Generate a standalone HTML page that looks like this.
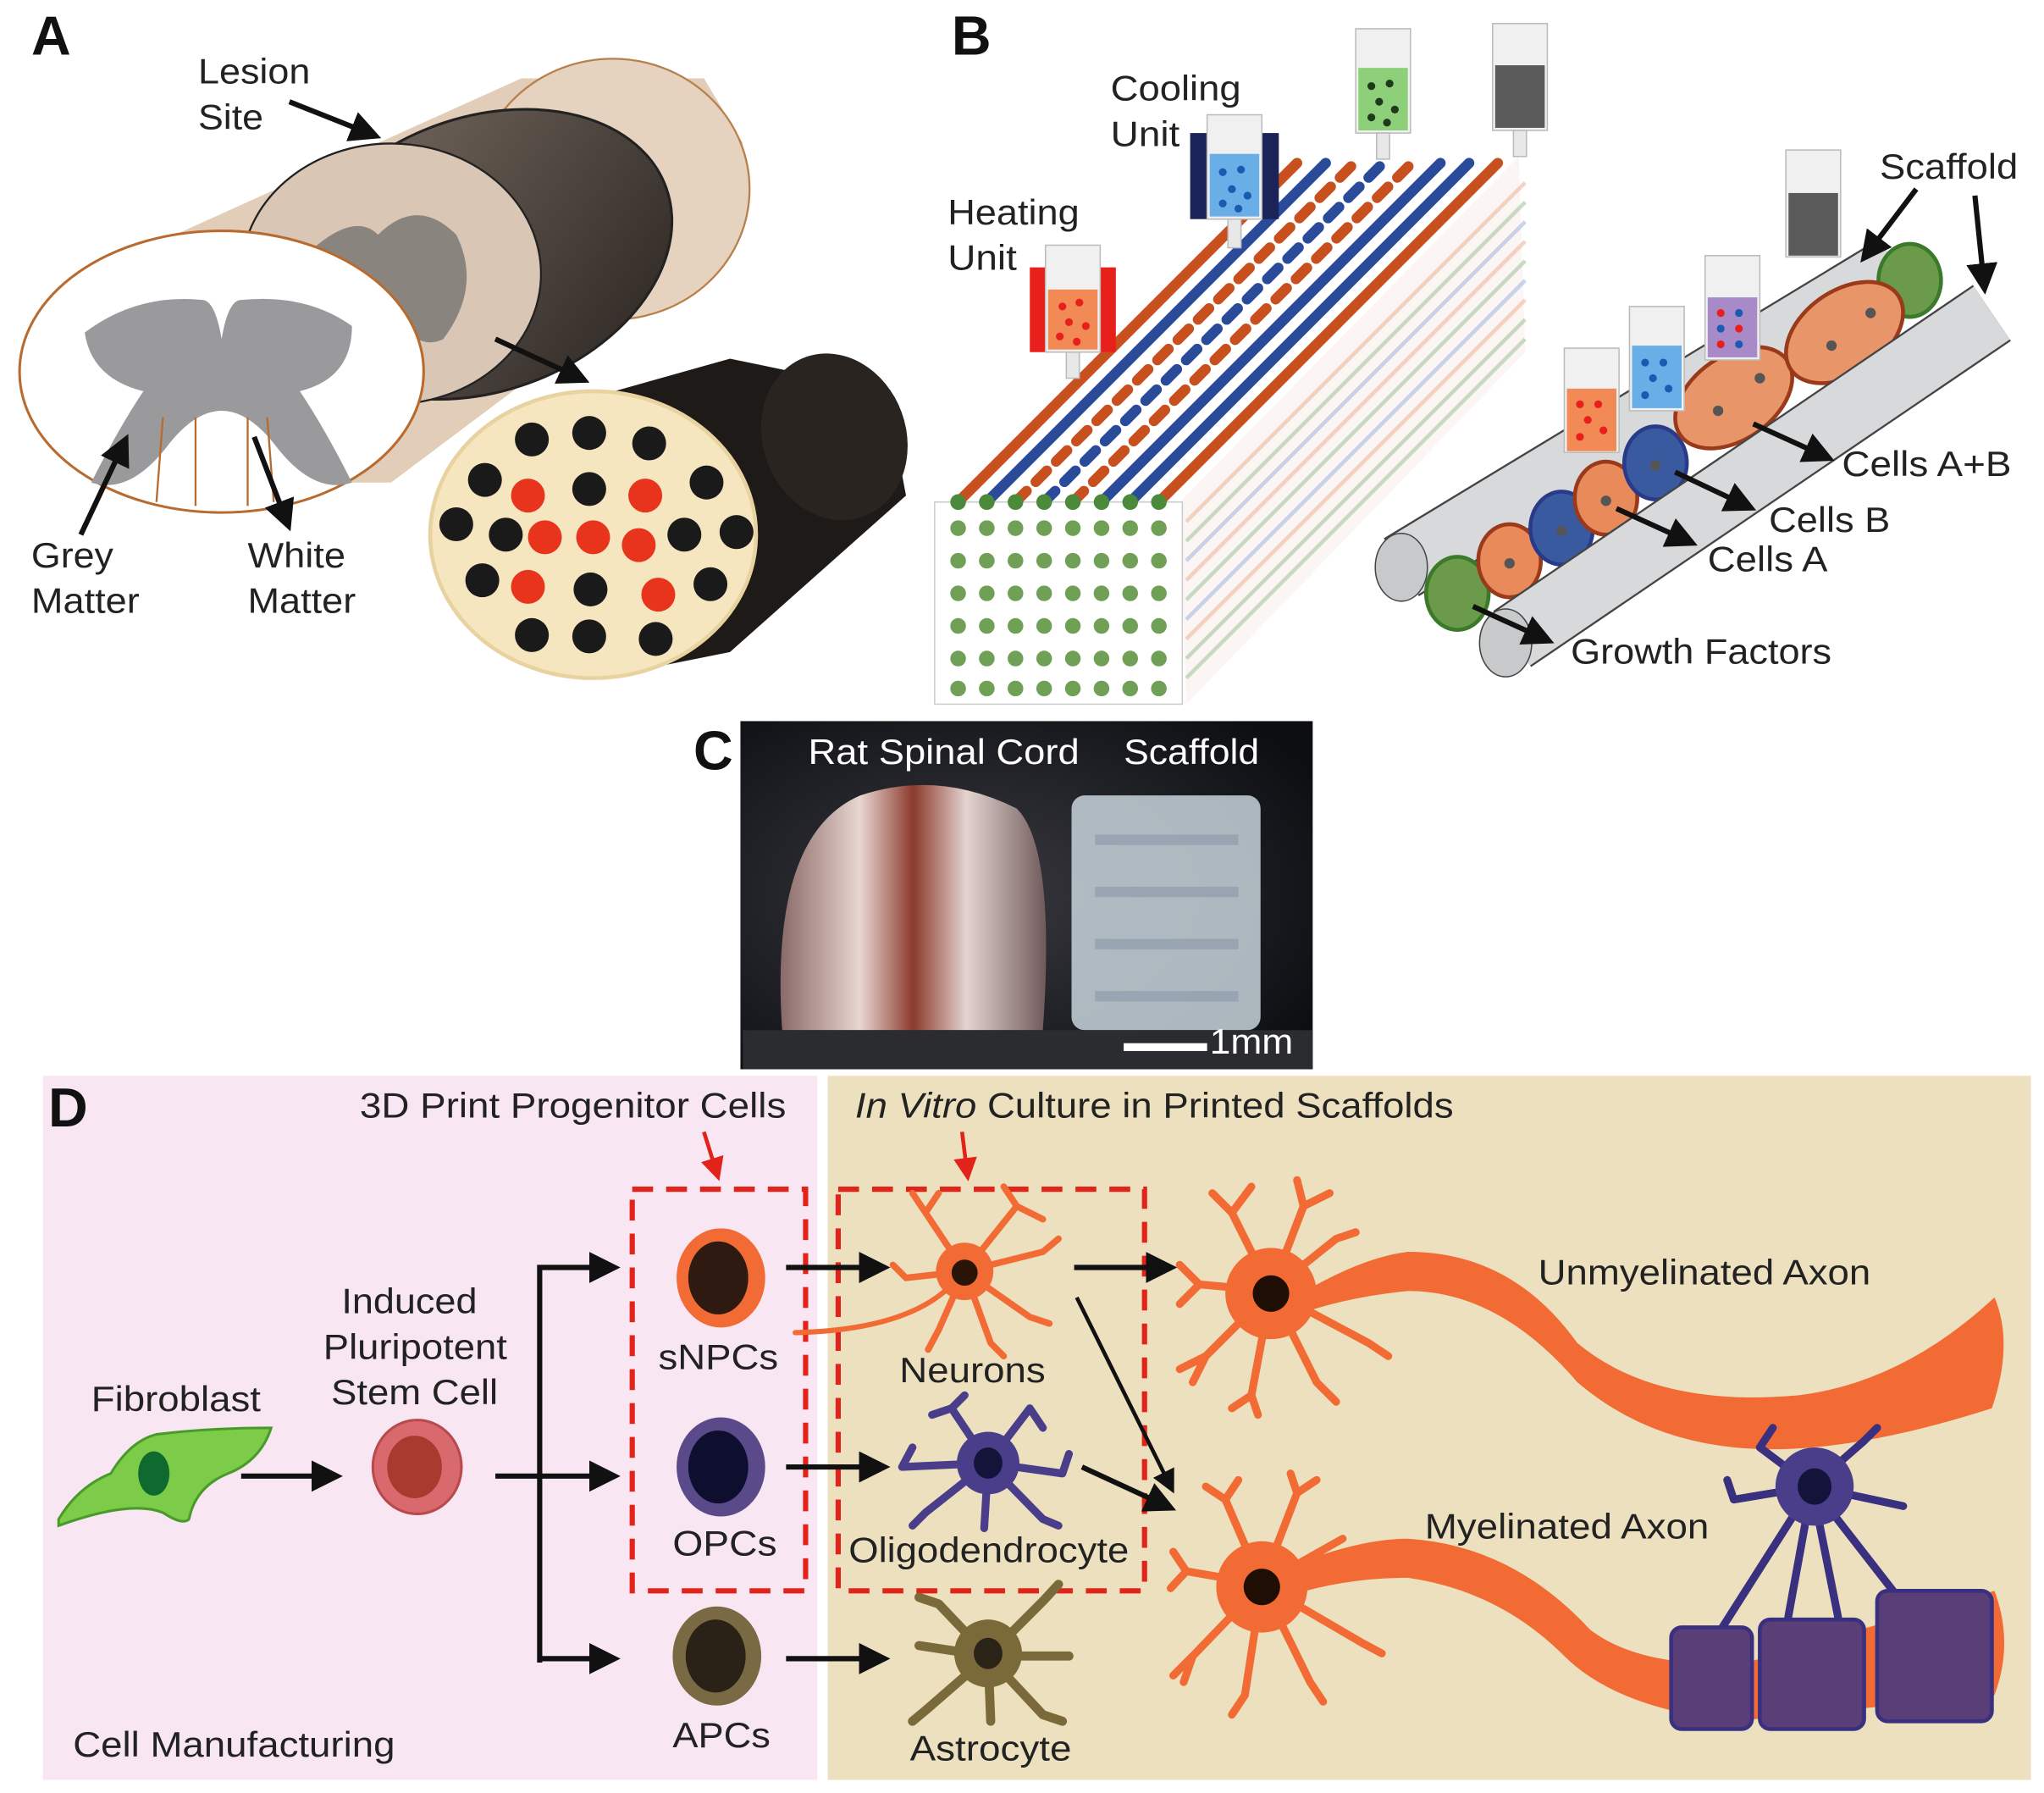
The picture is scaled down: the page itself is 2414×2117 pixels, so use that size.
<!DOCTYPE html>
<html><head><meta charset="utf-8"><style>
html,body{margin:0;padding:0;background:#fff;}
svg{display:block;}
text{font-family:"Liberation Sans",sans-serif;fill:#222;}
</style></head><body>
<svg width="2414" height="2117" viewBox="0 0 1568 1375" xmlns="http://www.w3.org/2000/svg">
<defs>
<marker id="ah" markerWidth="6" markerHeight="6" refX="4" refY="3" orient="auto" markerUnits="strokeWidth"><path d="M0,0 L6,3 L0,6 z" fill="#111"/></marker>
<marker id="ar" markerWidth="6" markerHeight="6" refX="4" refY="3" orient="auto" markerUnits="strokeWidth"><path d="M0,0 L6,3 L0,6 z" fill="#e2231a"/></marker>
<linearGradient id="dk" x1="0" y1="0" x2="1" y2="1"><stop offset="0" stop-color="#7a6e64"/><stop offset="1" stop-color="#2a2420"/></linearGradient>
<radialGradient id="ph" cx="0.4" cy="0.5" r="0.7"><stop offset="0" stop-color="#3a3a40"/><stop offset="1" stop-color="#0c0e12"/></radialGradient>
<linearGradient id="cord" x1="0" y1="0" x2="1" y2="0"><stop offset="0" stop-color="#8a6a68"/><stop offset="0.3" stop-color="#e8d6d0"/><stop offset="0.5" stop-color="#8b3a2c"/><stop offset="0.7" stop-color="#e4d4d0"/><stop offset="1" stop-color="#6e5a5a"/></linearGradient>
</defs>
<rect width="1568" height="1375" fill="#fff"/>

<!-- PANEL A -->
<text x="24" y="42" font-size="42" font-weight="bold" style="fill:#111">A</text>
<polygon points="90,200 400,60 540,60 570,110 420,280 300,370 150,370" fill="#e2cdb8"/>
<ellipse cx="470" cy="145" rx="105" ry="100" fill="#e5d2bf" stroke="#b7804c" stroke-width="1.5"/>
<path d="M440,120 q20,-20 50,0 q20,30 0,60 q-30,20 -50,0z" fill="#a09080"/>
<ellipse cx="370" cy="195" rx="150" ry="105" fill="url(#dk)" stroke="#222" stroke-width="2" transform="rotate(-20 370 195)"/>
<ellipse cx="300" cy="210" rx="115" ry="100" fill="#d9c6b4" stroke="#222" stroke-width="1.5"/>
<path d="M230,200 q40,-40 60,-20 q30,-30 60,0 q20,40 -10,80 q-20,10 -40,-20 q-30,20 -50,0z" fill="#8a847e"/>
<ellipse cx="170" cy="285" rx="155" ry="108" fill="#fff" stroke="#b86b30" stroke-width="2"/>
<path d="M65,255 q40,-30 90,-25 q10,0 15,30 q5,-30 15,-30 q50,-5 85,20 q0,40 -40,50 q20,30 40,70 q-30,10 -60,-30 q-20,-25 -40,-25 q-20,0 -40,25 q-30,40 -60,30 q20,-40 40,-70 q-40,-10 -45,-45z" fill="#9a9a9c"/>
<path d="M120,385 L125,320 M150,388 V320 M190,388 V320 M210,385 L205,320" stroke="#b86b30" stroke-width="1.5"/>
<text x="152" y="64" font-size="27" textLength="86" lengthAdjust="spacingAndGlyphs">Lesion</text><text x="152" y="99" font-size="27" textLength="50" lengthAdjust="spacingAndGlyphs">Site</text>
<line x1="222" y1="78" x2="285" y2="103" stroke="#111" stroke-width="4" marker-end="url(#ah)"/>
<line x1="62" y1="410" x2="95" y2="340" stroke="#111" stroke-width="4" marker-end="url(#ah)"/>
<line x1="195" y1="335" x2="220" y2="400" stroke="#111" stroke-width="4" marker-end="url(#ah)"/>
<line x1="380" y1="260" x2="445" y2="290" stroke="#111" stroke-width="4" marker-end="url(#ah)"/>
<text x="24" y="435" font-size="27" textLength="63" lengthAdjust="spacingAndGlyphs">Grey</text><text x="24" y="470" font-size="27" textLength="83" lengthAdjust="spacingAndGlyphs">Matter</text>
<text x="190" y="435" font-size="27" textLength="75" lengthAdjust="spacingAndGlyphs">White</text><text x="190" y="470" font-size="27" textLength="83" lengthAdjust="spacingAndGlyphs">Matter</text>
<!-- scaffold cylinder -->
<polygon points="400,320 560,275 680,300 695,380 560,500 460,520" fill="#1e1a18"/>
<ellipse cx="640" cy="335" rx="55" ry="65" fill="#2a2420" transform="rotate(-20 640 335)"/>
<ellipse cx="455" cy="410" rx="125" ry="110" fill="#f6e6bf" stroke="#e8d2a0" stroke-width="3"/>
<g fill="#1a1a1a">
<circle cx="408" cy="337" r="13"/><circle cx="452" cy="332" r="13"/><circle cx="498" cy="340" r="13"/>
<circle cx="372" cy="368" r="13"/><circle cx="542" cy="370" r="13"/><circle cx="350" cy="402" r="13"/><circle cx="565" cy="408" r="13"/>
<circle cx="370" cy="445" r="13"/><circle cx="545" cy="448" r="13"/><circle cx="408" cy="487" r="13"/><circle cx="452" cy="488" r="13"/><circle cx="503" cy="490" r="13"/>
<circle cx="452" cy="375" r="13"/><circle cx="388" cy="410" r="13"/><circle cx="525" cy="410" r="13"/><circle cx="453" cy="452" r="13"/>
</g>
<g fill="#e8341c">
<circle cx="405" cy="380" r="13"/><circle cx="495" cy="380" r="13"/><circle cx="418" cy="412" r="13"/><circle cx="455" cy="412" r="13"/><circle cx="490" cy="418" r="13"/><circle cx="405" cy="450" r="13"/><circle cx="505" cy="456" r="13"/>
</g>

<!-- PANEL B -->
<text x="730" y="42" font-size="42" font-weight="bold" style="fill:#111">B</text>
<polygon points="905,385 1165,120 1170,270 910,540" fill="#fbf5f3"/>
<g stroke-width="3" opacity="0.6">
<line x1="910" y1="400" x2="1170" y2="140" stroke="#f0b8a0"/><line x1="910" y1="415" x2="1170" y2="155" stroke="#a8c8a0"/><line x1="910" y1="430" x2="1170" y2="170" stroke="#a8b8e0"/>
<line x1="910" y1="445" x2="1170" y2="185" stroke="#f0b8a0"/><line x1="910" y1="460" x2="1170" y2="200" stroke="#a8c8a0"/><line x1="910" y1="475" x2="1170" y2="215" stroke="#a8b8e0"/><line x1="910" y1="490" x2="1170" y2="230" stroke="#f0b8a0"/>
<line x1="910" y1="505" x2="1170" y2="245" stroke="#a8c8a0"/><line x1="910" y1="520" x2="1170" y2="260" stroke="#a8c8a0"/>
</g>
<rect x="717" y="385" width="190" height="155" fill="#fff" stroke="#ccc"/>
<g fill="#6fa055">
<circle cx="735" cy="405" r="6"/><circle cx="757" cy="405" r="6"/><circle cx="779" cy="405" r="6"/><circle cx="801" cy="405" r="6"/><circle cx="823" cy="405" r="6"/><circle cx="845" cy="405" r="6"/><circle cx="867" cy="405" r="6"/><circle cx="889" cy="405" r="6"/>
<circle cx="735" cy="430" r="6"/><circle cx="757" cy="430" r="6"/><circle cx="779" cy="430" r="6"/><circle cx="801" cy="430" r="6"/><circle cx="823" cy="430" r="6"/><circle cx="845" cy="430" r="6"/><circle cx="867" cy="430" r="6"/><circle cx="889" cy="430" r="6"/>
<circle cx="735" cy="455" r="6"/><circle cx="757" cy="455" r="6"/><circle cx="779" cy="455" r="6"/><circle cx="801" cy="455" r="6"/><circle cx="823" cy="455" r="6"/><circle cx="845" cy="455" r="6"/><circle cx="867" cy="455" r="6"/><circle cx="889" cy="455" r="6"/>
<circle cx="735" cy="480" r="6"/><circle cx="757" cy="480" r="6"/><circle cx="779" cy="480" r="6"/><circle cx="801" cy="480" r="6"/><circle cx="823" cy="480" r="6"/><circle cx="845" cy="480" r="6"/><circle cx="867" cy="480" r="6"/><circle cx="889" cy="480" r="6"/>
<circle cx="735" cy="505" r="6"/><circle cx="757" cy="505" r="6"/><circle cx="779" cy="505" r="6"/><circle cx="801" cy="505" r="6"/><circle cx="823" cy="505" r="6"/><circle cx="845" cy="505" r="6"/><circle cx="867" cy="505" r="6"/><circle cx="889" cy="505" r="6"/>
<circle cx="735" cy="528" r="6"/><circle cx="757" cy="528" r="6"/><circle cx="779" cy="528" r="6"/><circle cx="801" cy="528" r="6"/><circle cx="823" cy="528" r="6"/><circle cx="845" cy="528" r="6"/><circle cx="867" cy="528" r="6"/><circle cx="889" cy="528" r="6"/>
</g>
<g stroke-width="8" stroke-linecap="round">
<line x1="735" y1="385" x2="995" y2="125" stroke="#c8501f"/>
<line x1="757" y1="385" x2="1017" y2="125" stroke="#2a4a9a"/>
<line x1="779" y1="385" x2="1039" y2="125" stroke="#c8501f" stroke-dasharray="12 10"/>
<line x1="801" y1="385" x2="1061" y2="125" stroke="#2a4a9a" stroke-dasharray="12 10"/>
<line x1="823" y1="385" x2="1083" y2="125" stroke="#c8501f" stroke-dasharray="12 10"/>
<line x1="845" y1="385" x2="1105" y2="125" stroke="#2a4a9a"/>
<line x1="867" y1="385" x2="1127" y2="125" stroke="#2a4a9a"/>
<line x1="889" y1="385" x2="1149" y2="125" stroke="#c8501f"/>
</g>
<g fill="#4a8a3a"><circle cx="735" cy="385" r="6"/><circle cx="757" cy="385" r="6"/><circle cx="779" cy="385" r="6"/><circle cx="801" cy="385" r="6"/><circle cx="823" cy="385" r="6"/><circle cx="845" cy="385" r="6"/><circle cx="867" cy="385" r="6"/><circle cx="889" cy="385" r="6"/></g>
<rect x="790" y="205" width="66" height="65" fill="#e8201c"/>
<rect x="802" y="188" width="42" height="82" fill="#f0f0f0" stroke="#bbb"/><rect x="804" y="222" width="38" height="46" fill="#f28a55"/><rect x="818" y="270" width="10" height="20" fill="#e8e8e8" stroke="#bbb"/>
<rect x="913" y="102" width="68" height="66" fill="#1a2458"/>
<rect x="926" y="88" width="42" height="80" fill="#f0f0f0" stroke="#bbb"/><rect x="928" y="118" width="38" height="48" fill="#6aaee8"/><rect x="942" y="168" width="10" height="22" fill="#e8e8e8" stroke="#bbb"/>
<rect x="1040" y="22" width="42" height="80" fill="#f0f0f0" stroke="#bbb"/><rect x="1042" y="52" width="38" height="48" fill="#8ed07a"/><rect x="1056" y="102" width="10" height="20" fill="#e8e8e8" stroke="#bbb"/>
<rect x="1145" y="18" width="42" height="82" fill="#f0f0f0" stroke="#bbb"/><rect x="1147" y="50" width="38" height="48" fill="#5a5a5a"/><rect x="1161" y="100" width="10" height="20" fill="#e8e8e8" stroke="#bbb"/>
<g fill="#e8201c"><circle cx="815" cy="235" r="3"/><circle cx="828" cy="232" r="3"/><circle cx="820" cy="247" r="3"/><circle cx="833" cy="250" r="3"/><circle cx="813" cy="258" r="3"/><circle cx="826" cy="262" r="3"/></g>
<g fill="#1a5ab0"><circle cx="938" cy="132" r="3"/><circle cx="952" cy="130" r="3"/><circle cx="945" cy="145" r="3"/><circle cx="957" cy="150" r="3"/><circle cx="938" cy="156" r="3"/><circle cx="950" cy="160" r="3"/></g>
<g fill="#1e3a1a"><circle cx="1052" cy="66" r="3"/><circle cx="1066" cy="64" r="3"/><circle cx="1058" cy="78" r="3"/><circle cx="1070" cy="84" r="3"/><circle cx="1052" cy="90" r="3"/><circle cx="1064" cy="94" r="3"/></g>
<text x="727" y="172" font-size="27" textLength="101" lengthAdjust="spacingAndGlyphs">Heating</text><text x="727" y="207" font-size="27" textLength="53" lengthAdjust="spacingAndGlyphs">Unit</text>
<text x="852" y="77" font-size="27" textLength="100" lengthAdjust="spacingAndGlyphs">Cooling</text><text x="852" y="112" font-size="27" textLength="53" lengthAdjust="spacingAndGlyphs">Unit</text>
<line x1="1075" y1="435" x2="1455" y2="205" stroke="#444" stroke-width="52"/>
<line x1="1075" y1="435" x2="1455" y2="205" stroke="#d8d9db" stroke-width="49"/>
<ellipse cx="1075" cy="435" rx="20" ry="26" fill="#c8c9cb" stroke="#444"/>
<ellipse cx="1118" cy="455" rx="24" ry="28" fill="#6a9a4a" stroke="#3a7a2a" stroke-width="3"/>
<ellipse cx="1465" cy="215" rx="24" ry="28" fill="#6a9a4a" stroke="#3a7a2a" stroke-width="3"/>
<ellipse cx="1158" cy="430" rx="24" ry="28" fill="#e88a5a" stroke="#9a3a1a" stroke-width="3"/>
<ellipse cx="1198" cy="405" rx="24" ry="28" fill="#3a5aa0" stroke="#2a3a8a" stroke-width="3"/>
<ellipse cx="1232" cy="382" rx="24" ry="28" fill="#e88a5a" stroke="#9a3a1a" stroke-width="3"/>
<ellipse cx="1270" cy="355" rx="24" ry="28" fill="#3a5aa0" stroke="#2a3a8a" stroke-width="3"/>
<ellipse cx="1330" cy="305" rx="50" ry="32" fill="#e8956a" stroke="#9a3a1a" stroke-width="3" transform="rotate(-35 1330 305)"/>
<ellipse cx="1415" cy="255" rx="50" ry="32" fill="#e8956a" stroke="#9a3a1a" stroke-width="3" transform="rotate(-35 1415 255)"/>
<g fill="#555"><circle cx="1158" cy="432" r="4"/><circle cx="1198" cy="407" r="4"/><circle cx="1232" cy="384" r="4"/><circle cx="1270" cy="357" r="4"/><circle cx="1318" cy="315" r="4"/><circle cx="1350" cy="290" r="4"/><circle cx="1405" cy="265" r="4"/><circle cx="1435" cy="240" r="4"/></g>
<line x1="1160" y1="490" x2="1528" y2="240" stroke="#444" stroke-width="52"/>
<line x1="1160" y1="490" x2="1528" y2="240" stroke="#d8d9db" stroke-width="49"/>
<ellipse cx="1155" cy="493" rx="20" ry="26" fill="#c8c9cb" stroke="#444"/>
<rect x="1200" y="267" width="42" height="80" fill="#f0f0f0" stroke="#bbb"/><rect x="1202" y="298" width="38" height="48" fill="#f28a55"/>
<rect x="1250" y="235" width="42" height="80" fill="#f0f0f0" stroke="#bbb"/><rect x="1252" y="265" width="38" height="48" fill="#6aaee8"/>
<rect x="1308" y="196" width="42" height="80" fill="#f0f0f0" stroke="#bbb"/><rect x="1310" y="228" width="38" height="46" fill="#a88ac8"/>
<rect x="1370" y="115" width="42" height="82" fill="#f0f0f0" stroke="#bbb"/><rect x="1372" y="148" width="38" height="48" fill="#5a5a5a"/>
<g fill="#e8201c"><circle cx="1212" cy="310" r="3"/><circle cx="1226" cy="310" r="3"/><circle cx="1218" cy="322" r="3"/><circle cx="1230" cy="330" r="3"/><circle cx="1212" cy="335" r="3"/></g>
<g fill="#1a5ab0"><circle cx="1262" cy="278" r="3"/><circle cx="1276" cy="278" r="3"/><circle cx="1268" cy="290" r="3"/><circle cx="1280" cy="298" r="3"/><circle cx="1262" cy="303" r="3"/></g>
<g fill="#e8201c"><circle cx="1320" cy="240" r="3"/><circle cx="1334" cy="252" r="3"/><circle cx="1320" cy="264" r="3"/></g><g fill="#1a5ab0"><circle cx="1334" cy="240" r="3"/><circle cx="1320" cy="252" r="3"/><circle cx="1334" cy="264" r="3"/></g>
<text x="1442" y="137" font-size="27" textLength="106" lengthAdjust="spacingAndGlyphs">Scaffold</text>
<line x1="1470" y1="145" x2="1432" y2="195" stroke="#111" stroke-width="4" marker-end="url(#ah)"/>
<line x1="1515" y1="150" x2="1522" y2="218" stroke="#111" stroke-width="4" marker-end="url(#ah)"/>
<line x1="1345" y1="325" x2="1400" y2="350" stroke="#111" stroke-width="4" marker-end="url(#ah)"/>
<line x1="1285" y1="362" x2="1340" y2="388" stroke="#111" stroke-width="4" marker-end="url(#ah)"/>
<line x1="1240" y1="390" x2="1295" y2="415" stroke="#111" stroke-width="4" marker-end="url(#ah)"/>
<line x1="1130" y1="465" x2="1185" y2="490" stroke="#111" stroke-width="4" marker-end="url(#ah)"/>
<text x="1413" y="365" font-size="27" textLength="130" lengthAdjust="spacingAndGlyphs">Cells A+B</text>
<text x="1357" y="408" font-size="27" textLength="93" lengthAdjust="spacingAndGlyphs">Cells B</text>
<text x="1310" y="438" font-size="27" textLength="92" lengthAdjust="spacingAndGlyphs">Cells A</text>
<text x="1205" y="509" font-size="27" textLength="200" lengthAdjust="spacingAndGlyphs">Growth Factors</text>

<!-- PANEL C -->
<text x="532" y="590" font-size="42" font-weight="bold" style="fill:#111">C</text>
<rect x="568" y="553" width="439" height="267" fill="url(#ph)"/>
<path d="M600,790 Q590,640 660,610 Q720,590 780,620 Q810,650 800,790z" fill="url(#cord)"/>
<rect x="822" y="610" width="145" height="180" rx="10" fill="#c8d4dc" opacity="0.85"/>
<g fill="#8a98a8" opacity="0.6"><rect x="840" y="640" width="110" height="8"/><rect x="840" y="680" width="110" height="8"/><rect x="840" y="720" width="110" height="8"/><rect x="840" y="760" width="110" height="8"/></g>
<rect x="570" y="790" width="437" height="30" fill="#2a2c30"/>
<text x="620" y="586" font-size="27" style="fill:#fff" textLength="208" lengthAdjust="spacingAndGlyphs">Rat Spinal Cord</text>
<text x="862" y="586" font-size="27" style="fill:#fff" textLength="104" lengthAdjust="spacingAndGlyphs">Scaffold</text>
<rect x="862" y="800" width="64" height="6" fill="#fff"/>
<text x="928" y="808" font-size="27" style="fill:#fff" textLength="64" lengthAdjust="spacingAndGlyphs">1mm</text>

<!-- PANEL D -->
<rect x="33" y="825" width="594" height="540" fill="#f8e6f3"/>
<rect x="635" y="825" width="923" height="540" fill="#ede0bf"/>
<text x="37" y="864" font-size="42" font-weight="bold" style="fill:#111">D</text>
<text x="276" y="857" font-size="27" textLength="327" lengthAdjust="spacingAndGlyphs">3D Print Progenitor Cells</text>
<text x="656" y="857" font-size="27" textLength="459" lengthAdjust="spacingAndGlyphs"><tspan font-style="italic">In Vitro</tspan> Culture in Printed Scaffolds</text>
<line x1="540" y1="868" x2="550" y2="900" stroke="#e2231a" stroke-width="3" marker-end="url(#ar)"/>
<line x1="738" y1="868" x2="742" y2="900" stroke="#e2231a" stroke-width="3" marker-end="url(#ar)"/>
<rect x="485" y="912" width="133" height="308" fill="none" stroke="#e2231a" stroke-width="4" stroke-dasharray="16 10"/>
<rect x="643" y="912" width="235" height="308" fill="none" stroke="#e2231a" stroke-width="4" stroke-dasharray="16 10"/>
<path d="M45,1165 Q60,1140 85,1130 Q100,1105 120,1100 Q160,1095 208,1095 Q200,1120 175,1130 Q150,1140 145,1165 Q140,1170 125,1160 Q100,1150 45,1170z" fill="#7ccc4a" stroke="#4a9a2a" stroke-width="2"/>
<ellipse cx="118" cy="1130" rx="12" ry="17" fill="#0f6a30"/>
<text x="70" y="1082" font-size="27" textLength="130" lengthAdjust="spacingAndGlyphs">Fibroblast</text>
<ellipse cx="320" cy="1125" rx="34" ry="36" fill="#d86a6e" stroke="#b84a4e" stroke-width="2"/>
<ellipse cx="318" cy="1125" rx="21" ry="24" fill="#a83a30"/>
<text x="262" y="1007" font-size="27" textLength="104" lengthAdjust="spacingAndGlyphs">Induced</text>
<text x="248" y="1042" font-size="27" textLength="141" lengthAdjust="spacingAndGlyphs">Pluripotent</text>
<text x="254" y="1077" font-size="27" textLength="128" lengthAdjust="spacingAndGlyphs">Stem Cell</text>
<g stroke="#111" stroke-width="4" fill="none">
<line x1="185" y1="1132" x2="255" y2="1132" marker-end="url(#ah)"/>
<line x1="380" y1="1132" x2="468" y2="1132" marker-end="url(#ah)"/>
<polyline points="414,1275 414,972 468,972" marker-end="url(#ah)"/>
<line x1="414" y1="1272" x2="468" y2="1272" marker-end="url(#ah)"/>
<line x1="603" y1="972" x2="675" y2="972" marker-end="url(#ah)"/>
<line x1="603" y1="1125" x2="675" y2="1125" marker-end="url(#ah)"/>
<line x1="603" y1="1272" x2="675" y2="1272" marker-end="url(#ah)"/>
<line x1="824" y1="972" x2="895" y2="972" marker-end="url(#ah)"/>
<line x1="826" y1="995" x2="898" y2="1140" stroke-width="3" marker-end="url(#ah)"/>
<line x1="830" y1="1125" x2="895" y2="1155" marker-end="url(#ah)"/>
</g>
<ellipse cx="553" cy="980" rx="34" ry="38" fill="#f26a34"/><ellipse cx="551" cy="980" rx="23" ry="28" fill="#2e1a10"/>
<ellipse cx="553" cy="1125" rx="34" ry="38" fill="#5a4a8a"/><ellipse cx="551" cy="1125" rx="23" ry="28" fill="#0e0e2e"/>
<ellipse cx="550" cy="1270" rx="34" ry="38" fill="#7a6a44"/><ellipse cx="549" cy="1270" rx="23" ry="28" fill="#2a2216"/>
<text x="505" y="1050" font-size="27" textLength="92" lengthAdjust="spacingAndGlyphs">sNPCs</text>
<text x="516" y="1193" font-size="27" textLength="80" lengthAdjust="spacingAndGlyphs">OPCs</text>
<text x="516" y="1340" font-size="27" textLength="75" lengthAdjust="spacingAndGlyphs">APCs</text>
<g stroke="#f26a34" stroke-width="5" fill="none" stroke-linecap="round">
<path d="M740,975 L710,930 M740,975 L780,925 M740,975 L800,960 M740,975 L790,1010 M740,975 L760,1030 M740,975 L720,1020 M740,975 L695,980 M710,930 L700,915 M710,930 L720,915 M780,925 L800,935 M780,925 L770,910 M800,960 L812,950 M790,1010 L805,1015 M760,1030 L770,1040 M720,1020 L712,1035 M695,980 L685,970"/>
<path d="M725,990 Q690,1020 610,1022" stroke-width="4"/>
</g>
<ellipse cx="740" cy="975" rx="22" ry="22" fill="#f26a34"/><ellipse cx="740" cy="976" rx="10" ry="10" fill="#2a1408"/>
<text x="690" y="1060" font-size="27" textLength="112" lengthAdjust="spacingAndGlyphs">Neurons</text>
<g stroke="#4a3e8a" stroke-width="6" fill="none" stroke-linecap="round">
<path d="M758,1122 L730,1080 M758,1122 L790,1080 M758,1122 L815,1130 M758,1122 L800,1165 M758,1122 L755,1172 M758,1122 L710,1160 M758,1122 L692,1125 M730,1080 L715,1085 M790,1080 L800,1095 M730,1080 L740,1070 M815,1130 L820,1115 M800,1165 L812,1170 M710,1160 L700,1170 M692,1125 L700,1110"/>
</g>
<ellipse cx="758" cy="1122" rx="24" ry="24" fill="#4a3e8a"/><ellipse cx="758" cy="1122" rx="11" ry="12" fill="#14143a"/>
<text x="651" y="1198" font-size="27" textLength="215" lengthAdjust="spacingAndGlyphs">Oligodendrocyte</text>
<g stroke="#7a6a3a" stroke-width="7" fill="none" stroke-linecap="round">
<path d="M758,1270 L720,1230 M758,1270 L800,1228 M758,1270 L820,1270 M758,1270 L800,1315 M758,1270 L760,1320 M758,1270 L712,1310 M758,1270 L705,1262 M720,1230 L705,1225 M800,1228 L812,1215 M800,1315 L815,1320 M712,1310 L700,1320"/>
</g>
<ellipse cx="758" cy="1268" rx="26" ry="26" fill="#7a6a3a"/><ellipse cx="758" cy="1268" rx="11" ry="12" fill="#2a2416"/>
<text x="698" y="1350" font-size="27" textLength="124" lengthAdjust="spacingAndGlyphs">Astrocyte</text>
<path d="M985,1000 Q1040,965 1080,960 Q1160,960 1210,1030 Q1270,1080 1380,1070 Q1460,1060 1530,995 Q1545,1030 1528,1080 Q1450,1105 1390,1110 Q1280,1120 1210,1060 Q1150,990 1080,990 Q1030,995 990,1010z" fill="#f26a34"/>
<g stroke="#f26a34" stroke-width="6" fill="none" stroke-linecap="round">
<path d="M975,990 L945,930 M975,990 L1000,925 M975,990 L1025,950 M975,990 L920,985 M975,990 L925,1040 M975,990 L960,1070 M975,990 L1010,1060 M975,990 L1050,1030 M945,930 L930,915 M945,930 L960,910 M1000,925 L1020,915 M1000,925 L995,905 M1025,950 L1040,945 M920,985 L905,970 M920,985 L905,1000 M925,1040 L905,1050 M925,1040 L915,1060 M960,1070 L945,1080 M960,1070 L965,1085 M1010,1060 L1025,1075 M1050,1030 L1065,1040"/>
</g>
<ellipse cx="975" cy="992" rx="35" ry="35" fill="#f26a34"/><ellipse cx="975" cy="992" rx="14" ry="14" fill="#1e0e04"/>
<path d="M980,1205 Q1040,1180 1080,1180 Q1160,1185 1220,1250 Q1260,1280 1340,1275 L1530,1220 Q1545,1260 1530,1300 L1330,1320 Q1240,1310 1200,1270 Q1150,1220 1080,1210 Q1030,1210 985,1225z" fill="#f26a34"/>
<g stroke="#f26a34" stroke-width="6" fill="none" stroke-linecap="round">
<path d="M968,1215 L940,1150 M968,1215 L995,1145 M968,1215 L1030,1180 M968,1215 L910,1205 M968,1215 L915,1270 M968,1215 L955,1300 M968,1215 L1005,1290 M968,1215 L1045,1260 M940,1150 L925,1140 M940,1150 L950,1135 M995,1145 L1010,1135 M995,1145 L990,1130 M910,1205 L900,1190 M910,1205 L898,1218 M915,1270 L900,1285 M915,1270 L908,1290 M955,1300 L945,1315 M1005,1290 L1015,1305 M1045,1260 L1060,1268"/>
</g>
<ellipse cx="968" cy="1217" rx="35" ry="35" fill="#f26a34"/><ellipse cx="968" cy="1217" rx="14" ry="14" fill="#1e0e04"/>
<g stroke="#3a3080" stroke-width="6" fill="none" stroke-linecap="round">
<path d="M1390,1140 L1350,1110 M1390,1140 L1430,1105 M1390,1140 L1460,1155 M1390,1140 L1330,1150 M1390,1140 L1370,1250 M1390,1140 L1320,1250 M1390,1140 L1410,1240 M1390,1140 L1460,1230 M1350,1110 L1360,1095 M1430,1105 L1440,1095 M1330,1150 L1325,1135"/>
</g>
<ellipse cx="1392" cy="1140" rx="30" ry="30" fill="#4a3e8a"/><ellipse cx="1392" cy="1140" rx="13" ry="14" fill="#14143a"/>
<rect x="1282" y="1248" width="62" height="78" rx="8" fill="#5a3e78" stroke="#3a3080" stroke-width="3"/>
<rect x="1350" y="1242" width="80" height="84" rx="8" fill="#5a3e78" stroke="#3a3080" stroke-width="3"/>
<rect x="1440" y="1220" width="88" height="100" rx="8" fill="#5a3e78" stroke="#3a3080" stroke-width="3"/>
<text x="1180" y="985" font-size="27" textLength="255" lengthAdjust="spacingAndGlyphs">Unmyelinated Axon</text>
<text x="1093" y="1180" font-size="27" textLength="218" lengthAdjust="spacingAndGlyphs">Myelinated Axon</text>
<text x="56" y="1347" font-size="27" textLength="247" lengthAdjust="spacingAndGlyphs">Cell Manufacturing</text>
</svg>
</body></html>
